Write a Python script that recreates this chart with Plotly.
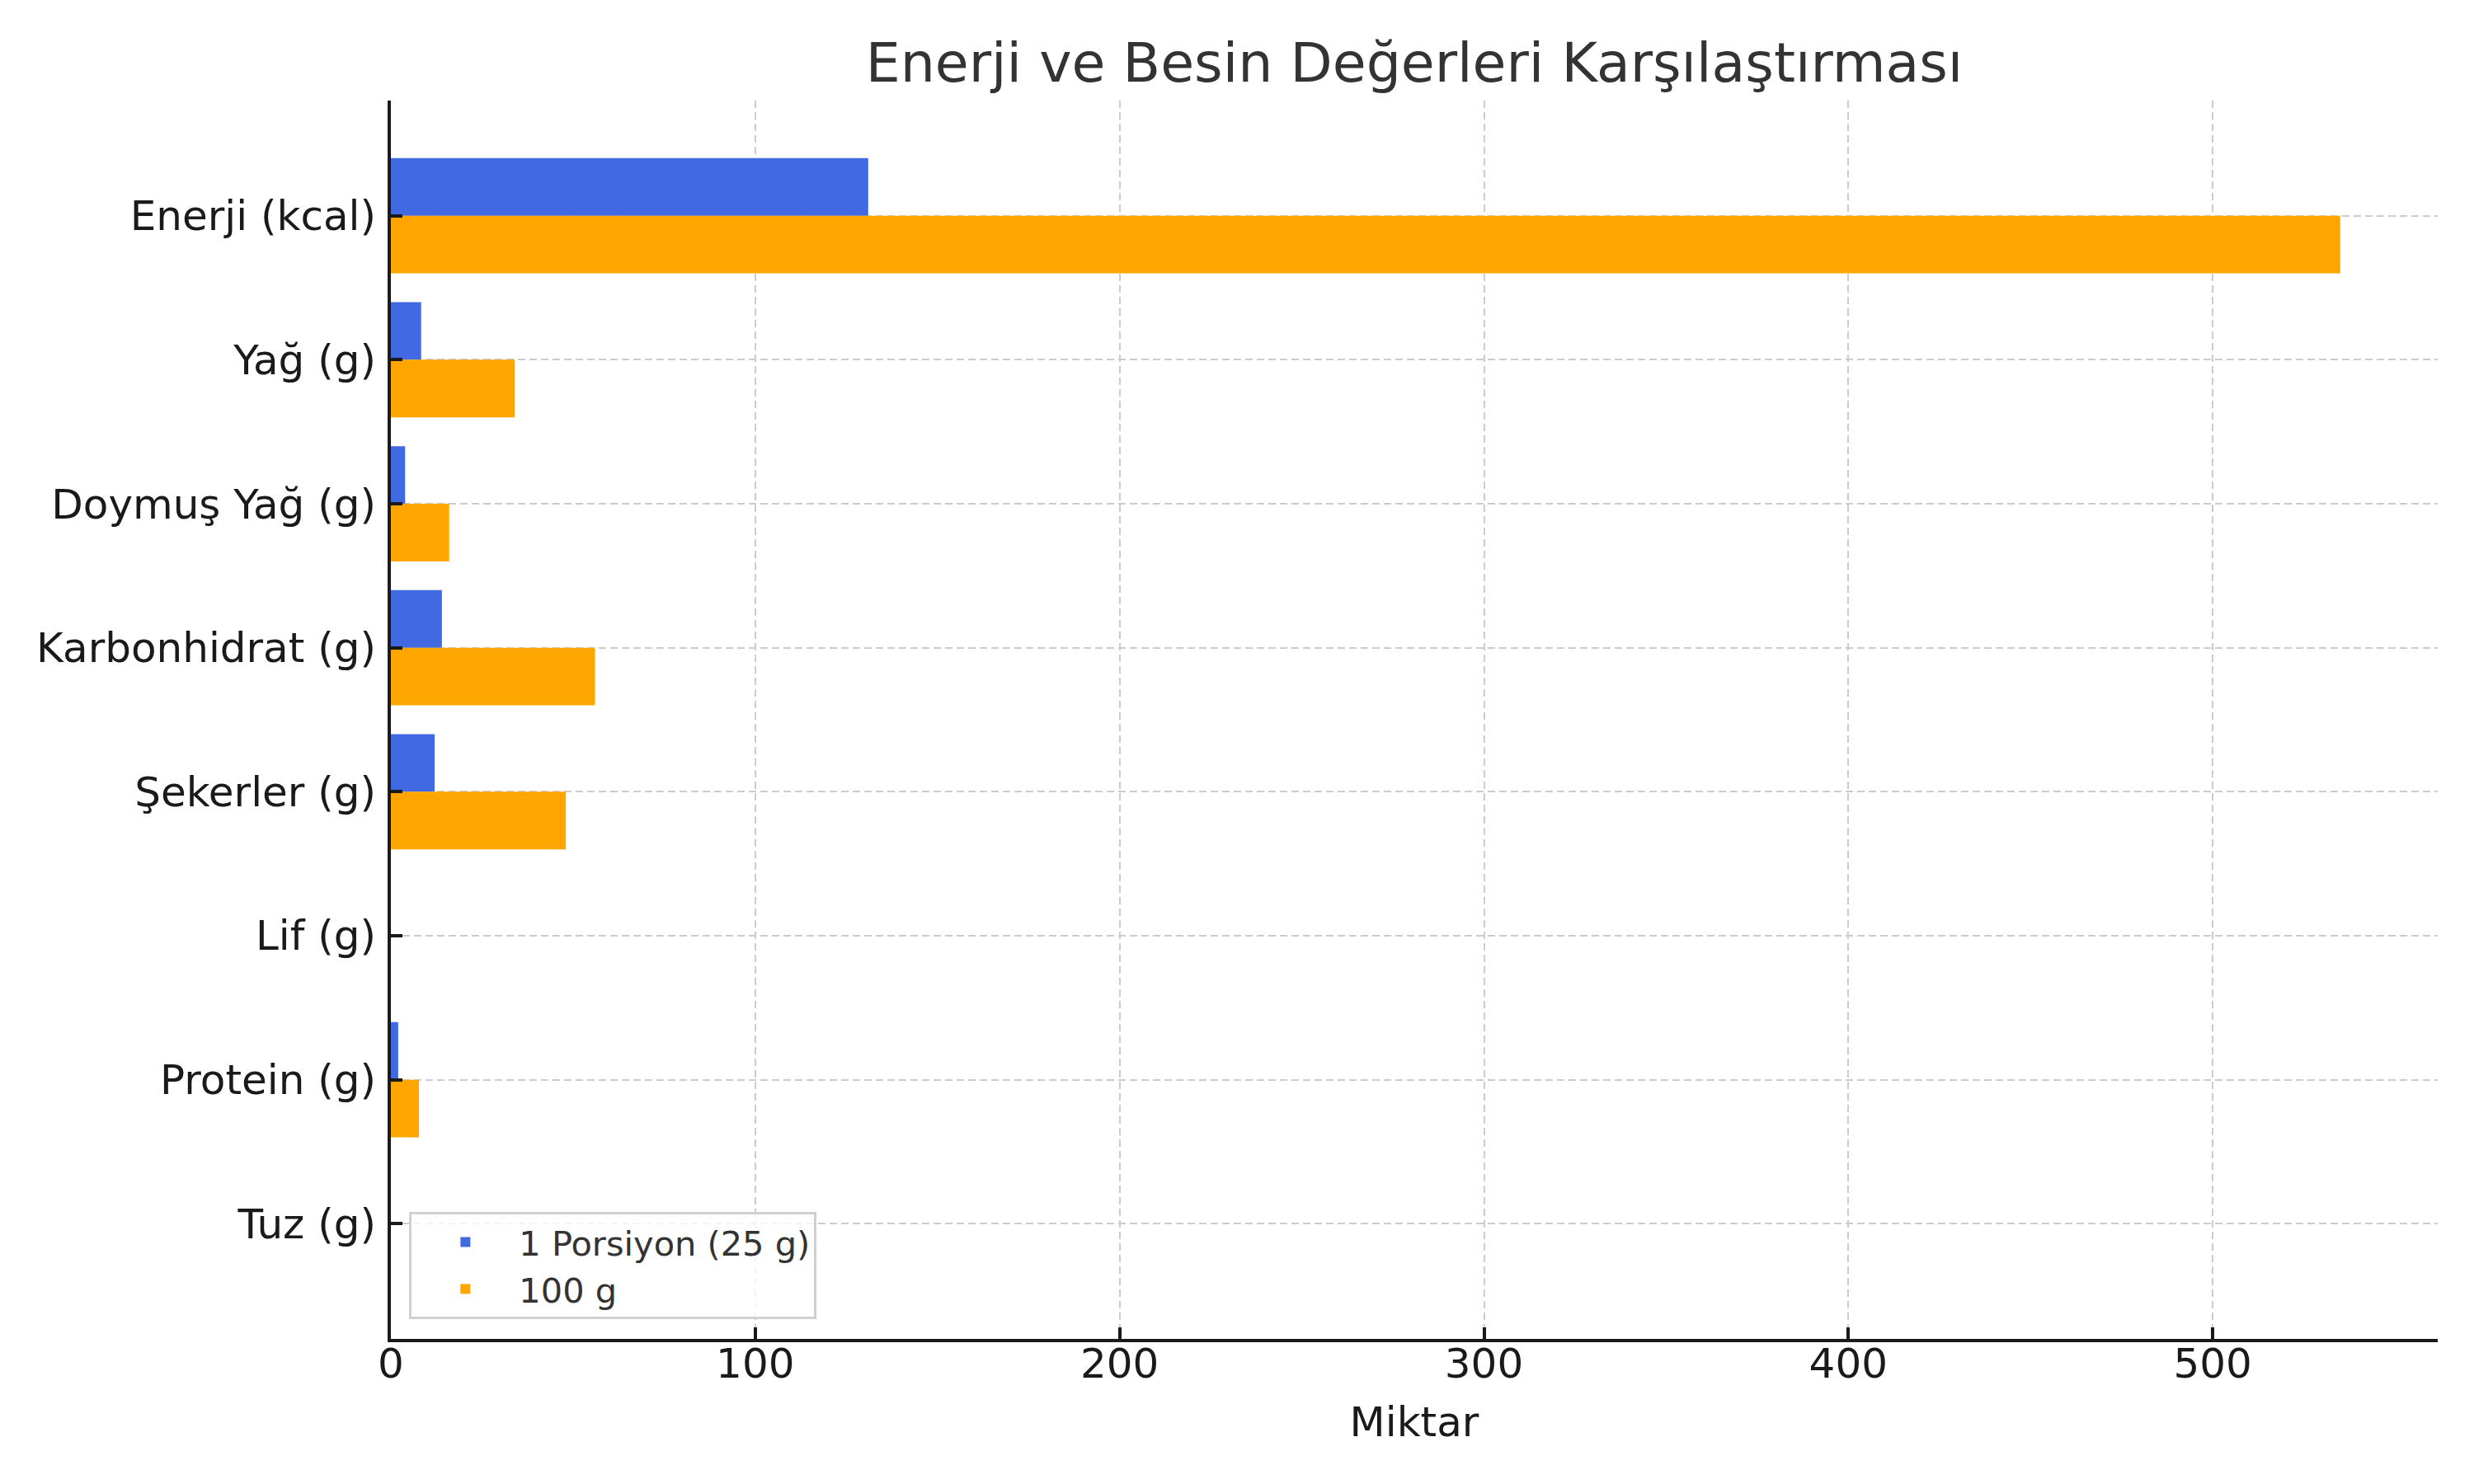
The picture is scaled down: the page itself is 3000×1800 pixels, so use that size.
'''
Enerji ve besin değerleri: 1 porsiyon (25 g) ile 100 g karşılaştırması (yatay çubuk)
'''
#%%
import plotly.graph_objects as go

# %%
# besin öğeleri (üstten alta)
kategoriler: list = [
    'Enerji (kcal)',
    'Yağ (g)',
    'Doymuş Yağ (g)',
    'Karbonhidrat (g)',
    'Şekerler (g)',
    'Lif (g)',
    'Protein (g)',
    'Tuz (g)',
]
porsiyon_25g: list = [131, 8.3, 3.9, 14, 12, 0, 2.0, 0]
yuz_gram: list = [535, 34, 16, 56, 48, 0, 7.7, 0]

x_tick_vals: list = [0, 100, 200, 300, 400, 500]

FONT = 'DejaVu Sans'
GRID = dict(showgrid=True, gridcolor='#cccccc', gridwidth=2, griddash='9px,5px')

# %%
fig = go.Figure(
    [
        go.Bar(y=kategoriler, x=porsiyon_25g, orientation='h', name='1 Porsiyon (25 g)',
               legendgroup='p', marker=dict(color='#4169E1', line_width=0)),
        go.Bar(y=kategoriler, x=yuz_gram, orientation='h', name='100 g',
               legendgroup='g', marker=dict(color='#FFA500', line_width=0)),
    ]
)

# sayfanın 8px body kenar boşluğu hesaba katıldı
fig.update_layout(
    width=3000,
    height=1800,
    margin=dict(l=466, r=52, t=114, b=184),
    paper_bgcolor='white',
    plot_bgcolor='white',
    font=dict(family=FONT, size=50, color='#1a1a1a'),
    barmode='group',
    bargap=0.2,
    bargroupgap=0,
    title=dict(
        text='Enerji ve Besin Değerleri Karşılaştırması',
        font=dict(size=66.5, color='#333333'),
        x=0.5, xref='paper', xanchor='center',
        y=1 - 68 / 1800, yref='container', yanchor='middle',
    ),
    legend=dict(
        x=0.009, y=0.016, xanchor='left', yanchor='bottom',
        bgcolor='rgba(255,255,255,0.8)',
        bordercolor='#d0d0d0', borderwidth=3,
        font=dict(size=41.5, color='#333333'),
        itemwidth=120,
        tracegroupgap=5,
        traceorder='normal',
    ),
)
fig.update_xaxes(
    range=[0, 561.75],
    tickvals=x_tick_vals,
    ticks='inside', ticklen=14, tickwidth=4, tickcolor='#1a1a1a',
    ticklabelstandoff=-17,
    showline=True, linecolor='#1a1a1a', linewidth=4,
    zeroline=False,
    title=dict(text='Miktar', standoff=26, font=dict(size=50, color='#1a1a1a')),
    **GRID,
)
fig.update_yaxes(
    type='category',
    categoryorder='array', categoryarray=kategoriler,
    range=[7.8, -0.8],
    ticks='inside', ticklen=14, tickwidth=4, tickcolor='#1a1a1a',
    ticklabelstandoff=4,
    showline=True, linecolor='#1a1a1a', linewidth=4,
    zeroline=False,
    **GRID,
)

# %%
if __name__ == '__main__':
    fig.write_html('out.html')
